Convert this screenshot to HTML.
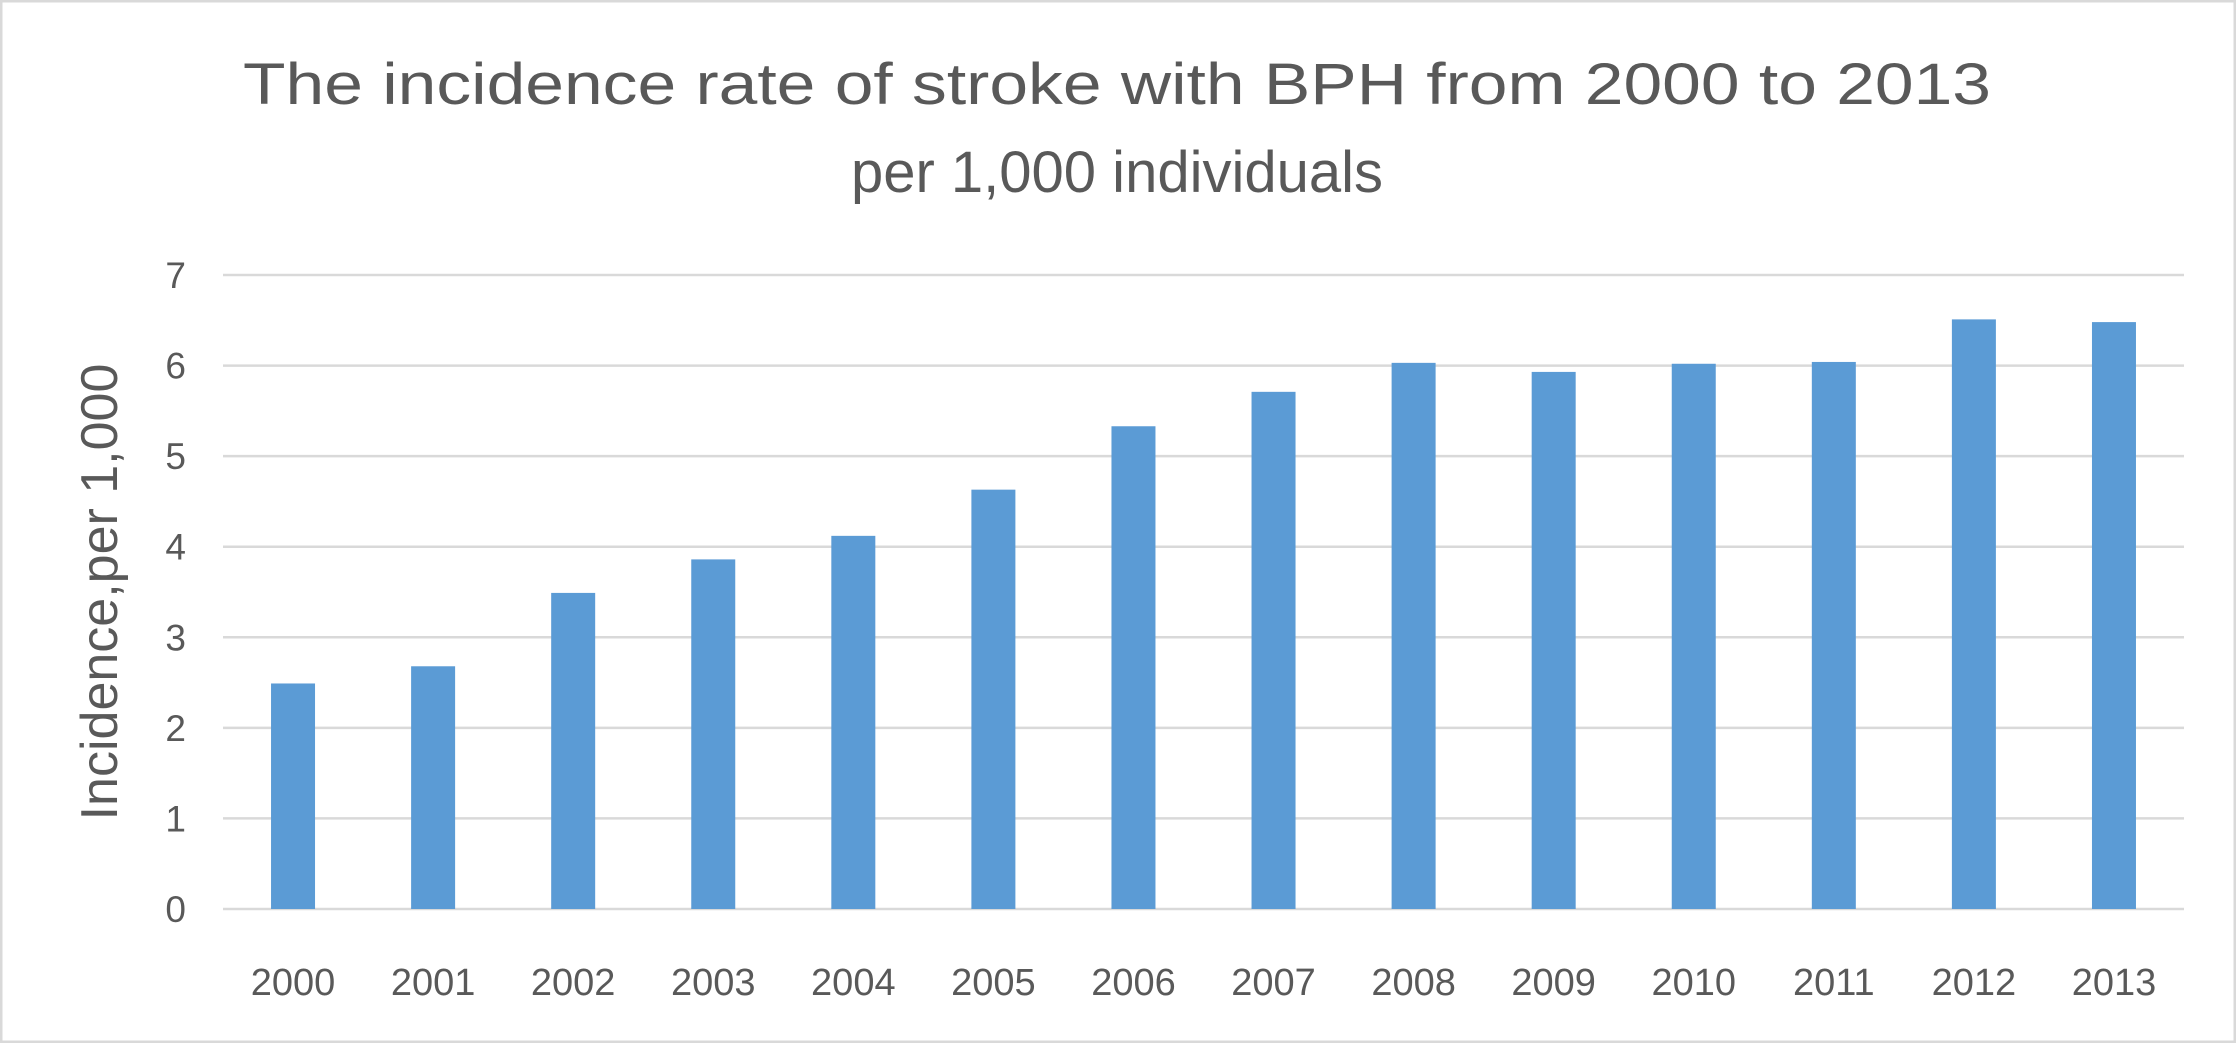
<!DOCTYPE html>
<html><head><meta charset="utf-8"><style>
html,body{margin:0;padding:0;background:#fff;}
svg{display:block;font-family:"Liberation Sans",Arial,sans-serif;}
</style></head><body>
<svg id="chart" width="2236" height="1043" viewBox="0 0 2236 1043" xmlns="http://www.w3.org/2000/svg">
<rect x="1" y="1" width="2234" height="1041" fill="#fff" stroke="#D9D9D9" stroke-width="3"/>
<text x="1117" y="104" text-anchor="middle" font-size="58" fill="#595959" textLength="1748" lengthAdjust="spacingAndGlyphs">The incidence rate of stroke with BPH from 2000 to 2013</text>
<text x="1117" y="192" text-anchor="middle" font-size="58" fill="#595959">per 1,000 individuals</text>
<text transform="translate(117,592) rotate(-90)" text-anchor="middle" font-size="52" fill="#595959">Incidence,per 1,000</text>
<g id="grid"></g><g id="bars"></g><g id="ylabels"></g><g id="xlabels"></g>
</svg>
<script>
const categories = ["2000","2001","2002","2003","2004","2005","2006","2007","2008","2009","2010","2011","2012","2013"];
const values = [2.49,2.68,3.49,3.86,4.12,4.63,5.33,5.71,6.03,5.93,6.02,6.04,6.51,6.48];
const yTicks = [0,1,2,3,4,5,6,7];
const NS="http://www.w3.org/2000/svg";
const L=223,R=2184,Y0=909,Y7=275,yMax=7;
function y(v){return Y0-(Y0-Y7)*v/yMax;}
const bw=(R-L)/categories.length;
function xc(i){return L+bw*(i+0.5);}
const grid=document.getElementById('grid'),bars=document.getElementById('bars'),yl=document.getElementById('ylabels'),xl=document.getElementById('xlabels');
yTicks.forEach(t=>{
 const ln=document.createElementNS(NS,'line');
 
 
 ln.setAttribute('x1',L);ln.setAttribute('x2',R);ln.setAttribute('y1',y(t));ln.setAttribute('y2',y(t));
 ln.setAttribute('stroke','#D9D9D9');ln.setAttribute('stroke-width','2.5');
 grid.appendChild(ln);
 const tx=document.createElementNS(NS,'text');
 
 
 tx.setAttribute('x',186);tx.setAttribute('y',y(t)+13);tx.setAttribute('text-anchor','end');
 tx.setAttribute('font-size','37');tx.setAttribute('fill','#595959');tx.textContent=t;
 yl.appendChild(tx);
});
categories.forEach((c,i)=>{
 const r=document.createElementNS(NS,'rect');
 
 
 r.setAttribute('x',xc(i)-22);r.setAttribute('width',44);
 r.setAttribute('y',y(values[i]));r.setAttribute('height',Y0-y(values[i]));
 r.setAttribute('fill','#5B9BD5');
 bars.appendChild(r);
 const tx=document.createElementNS(NS,'text');
 
 
 tx.setAttribute('x',xc(i));tx.setAttribute('y',995);tx.setAttribute('text-anchor','middle');
 tx.setAttribute('font-size','38');tx.setAttribute('fill','#595959');tx.textContent=c;
 xl.appendChild(tx);
});
</script>
</body></html>
